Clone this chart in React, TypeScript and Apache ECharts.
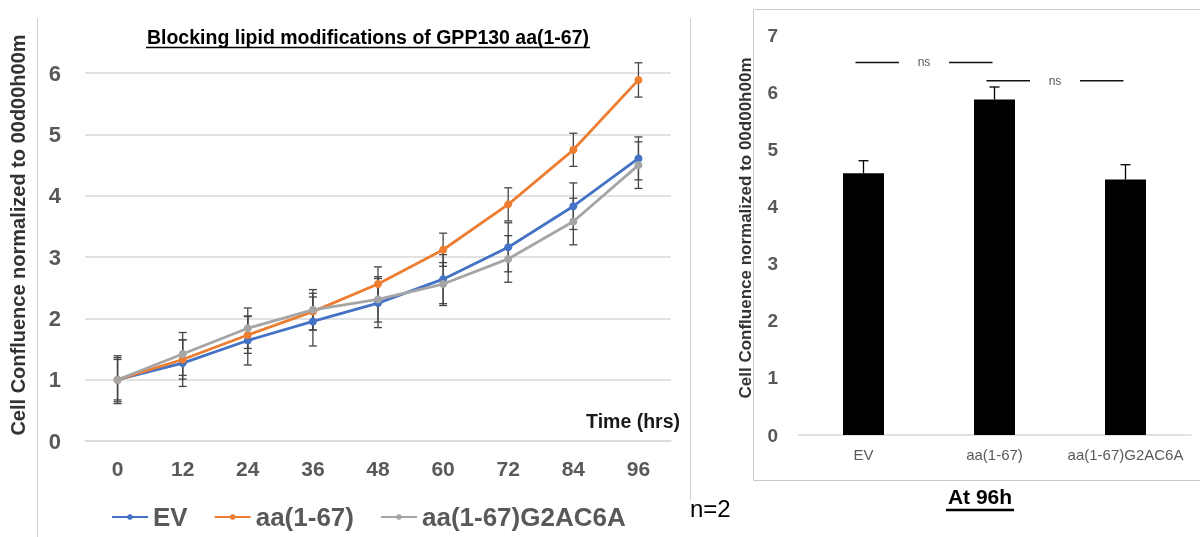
import React, { useEffect, useRef } from "react";
import * as echarts from "echarts";

const times = ["0", "12", "24", "36", "48", "60", "72", "84", "96"];
const seriesNames = ["EV", "aa(1-67)", "aa(1-67)G2AC6A"];
const evValues = [1.0, 1.27, 1.64, 1.95, 2.25, 2.64, 3.16, 3.83, 4.61];
const evErr = [0.36, 0.38, 0.4, 0.4, 0.4, 0.4, 0.4, 0.38, 0.35];
const aaValues = [1.0, 1.33, 1.73, 2.11, 2.56, 3.12, 3.86, 4.75, 5.89];
const aaErr = [0.33, 0.32, 0.3, 0.3, 0.28, 0.27, 0.27, 0.27, 0.28];
const g2Values = [1.0, 1.42, 1.84, 2.14, 2.31, 2.56, 2.97, 3.58, 4.5];
const g2Err = [0.39, 0.35, 0.33, 0.33, 0.37, 0.35, 0.38, 0.38, 0.38];
const lineColors = ["#4472C4", "#ED7D31", "#A5A5A5"];

const barCategories = ["EV", "aa(1-67)", "aa(1-67)G2AC6A"];
const at96Values = [4.58, 5.87, 4.47];
const at96Err = [0.22, 0.22, 0.26];
const sigPairs = [
  [0, 1, 6.52],
  [1, 2, 6.2],
];

const yTitle = "Cell Confluence normalized to 00d00h00m";
const FONT = "'Liberation Sans', Arial, Helvetica, sans-serif";

function errData(vals: number[], errs: number[]) {
  return vals.map((v, i) => [i, v - errs[i], v + errs[i]]);
}

function errorRender(color: string, both: boolean, cap: number) {
  return (params: any, api: any) => {
    const x = api.value(0);
    const lo = api.value(1);
    const hi = api.value(2);
    const pHi = api.coord([x, hi]);
    const pLo = api.coord([x, lo]);
    const style = { stroke: color, lineWidth: 1.3 };
    const children: any[] = [
      { type: "line", shape: { x1: pHi[0], y1: pHi[1], x2: pLo[0], y2: pLo[1] }, style },
      { type: "line", shape: { x1: pHi[0] - cap, y1: pHi[1], x2: pHi[0] + cap, y2: pHi[1] }, style },
    ];
    if (both) {
      children.push({ type: "line", shape: { x1: pLo[0] - cap, y1: pLo[1], x2: pLo[0] + cap, y2: pLo[1] }, style });
    }
    return { type: "group", children };
  };
}

export default function App() {
  const ref = useRef<HTMLDivElement>(null);
  useEffect(() => {
    if (!ref.current) return;
    const chart = echarts.init(ref.current, null, { renderer: "svg" });
    const lineVals = [evValues, aaValues, g2Values];
    const lineErrs = [evErr, aaErr, g2Err];

    const lineSeries: any[] = lineVals.map((vals, i) => ({
      name: seriesNames[i],
      type: "line",
      xAxisIndex: 0,
      yAxisIndex: 0,
      data: vals,
      symbol: "circle",
      symbolSize: 8,
      lineStyle: { width: 2.8, color: lineColors[i] },
      itemStyle: { color: lineColors[i] },
      z: 3 + i,
    }));
    const errSeries: any[] = lineVals.map((vals, i) => ({
      type: "custom",
      xAxisIndex: 0,
      yAxisIndex: 0,
      data: errData(vals, lineErrs[i]),
      renderItem: errorRender("#454545", true, 4),
      z: 2,
      silent: true,
    }));

    chart.setOption({
      animation: false,
      textStyle: { fontFamily: FONT },
      grid: [
        { left: 85, right: 529, top: 18, bottom: 96 },
        { left: 798, right: 9, top: 35, bottom: 102 },
      ],
      xAxis: [
        {
          type: "category",
          gridIndex: 0,
          data: times,
          boundaryGap: true,
          axisLine: { lineStyle: { color: "#d9d9d9", width: 1.5 } },
          axisTick: { show: false },
          axisLabel: { color: "#595959", fontSize: 21, fontWeight: "bold", margin: 17, fontFamily: FONT },
        },
        {
          type: "category",
          gridIndex: 1,
          data: barCategories,
          axisLine: { lineStyle: { color: "#d9d9d9", width: 1.5 } },
          axisTick: { show: false },
          axisLabel: { color: "#595959", fontSize: 15, margin: 12, interval: 0, hideOverlap: false, fontFamily: FONT },
        },
      ],
      yAxis: [
        {
          type: "value",
          gridIndex: 0,
          min: 0,
          max: 6.9,
          interval: 1,
          axisLine: { show: false },
          axisTick: { show: false },
          axisLabel: { color: "#595959", fontSize: 22, fontWeight: "bold", margin: 24, showMaxLabel: false, fontFamily: FONT },
          splitLine: { show: true, showMaxLine: false, lineStyle: { color: "#d9d9d9", width: 1.5 } },
        },
        {
          type: "value",
          gridIndex: 1,
          min: 0,
          max: 7,
          interval: 1,
          axisLine: { show: false },
          axisTick: { show: false },
          axisLabel: { color: "#595959", fontSize: 19, fontWeight: "bold", margin: 20, fontFamily: FONT },
          splitLine: { show: false },
        },
      ],
      legend: {
        data: seriesNames,
        left: 106,
        top: 499,
        itemWidth: 36,
        itemHeight: 7,
        itemGap: 26,
        textStyle: { color: "#595959", fontSize: 26, fontWeight: "bold", fontFamily: FONT },
      },
      series: [
        ...errSeries,
        ...lineSeries,
        {
          type: "bar",
          xAxisIndex: 1,
          yAxisIndex: 1,
          data: at96Values,
          barWidth: 41,
          itemStyle: { color: "#000000" },
        },
        {
          type: "custom",
          xAxisIndex: 1,
          yAxisIndex: 1,
          data: at96Values.map((v, i) => [i, v, v + at96Err[i]]),
          renderItem: errorRender("#000000", false, 5),
          z: 1,
          silent: true,
        },
        {
          type: "custom",
          xAxisIndex: 1,
          yAxisIndex: 1,
          data: sigPairs,
          silent: true,
          renderItem: (params: any, api: any) => {
            const a = api.value(0);
            const b = api.value(1);
            const y = api.value(2);
            const pa = api.coord([a, y]);
            const pb = api.coord([b, y]);
            const x1 = pa[0] - 8;
            const x2 = pb[0] - 2;
            const gap = 50;
            const mid = (x1 + x2) / 2;
            const st = { stroke: "#111", lineWidth: 1.5 };
            return {
              type: "group",
              children: [
                { type: "line", shape: { x1, y1: pa[1], x2: mid - gap / 2, y2: pa[1] }, style: st },
                { type: "line", shape: { x1: mid + gap / 2, y1: pa[1], x2, y2: pa[1] }, style: st },
                {
                  type: "text",
                  x: mid,
                  y: pa[1],
                  style: { text: "ns", align: "center", verticalAlign: "middle", fill: "#595959", font: `12px ${FONT}` },
                },
              ],
            };
          },
        },
      ],
      graphic: [
        { type: "line", shape: { x1: 37.5, y1: 18, x2: 37.5, y2: 537 }, style: { stroke: "#d0d0d0", lineWidth: 1 } },
        { type: "line", shape: { x1: 690.5, y1: 18, x2: 690.5, y2: 500 }, style: { stroke: "#d0d0d0", lineWidth: 1 } },
        { type: "rect", shape: { x: 753.5, y: 9.5, width: 460, height: 471 }, style: { fill: "none", stroke: "#c8c8c8", lineWidth: 1 } },
        {
          type: "text",
          x: 368,
          y: 37,
          style: { text: "Blocking lipid modifications of GPP130 aa(1-67)", align: "center", verticalAlign: "middle", fill: "#000", font: `bold 19.5px ${FONT}` },
        },
        { type: "line", shape: { x1: 146, y1: 47.5, x2: 590, y2: 47.5 }, style: { stroke: "#000", lineWidth: 1.5 } },
        {
          type: "text",
          x: 18,
          y: 235,
          rotation: Math.PI / 2,
          style: { text: yTitle, align: "center", verticalAlign: "middle", fill: "#333", font: `bold 20px ${FONT}` },
        },
        {
          type: "text",
          x: 745,
          y: 228,
          rotation: Math.PI / 2,
          style: { text: yTitle, align: "center", verticalAlign: "middle", fill: "#333", font: `bold 17px ${FONT}` },
        },
        {
          type: "text",
          x: 680,
          y: 421,
          style: { text: "Time (hrs)", align: "right", verticalAlign: "middle", fill: "#1a1a1a", font: `bold 19.5px ${FONT}` },
        },
        {
          type: "text",
          x: 690,
          y: 508,
          style: { text: "n=2", align: "left", verticalAlign: "middle", fill: "#000", font: `24px ${FONT}` },
        },
        {
          type: "text",
          x: 980,
          y: 496,
          style: { text: "At 96h", align: "center", verticalAlign: "middle", fill: "#000", font: `bold 21px ${FONT}` },
        },
        { type: "line", shape: { x1: 946, y1: 510, x2: 1014, y2: 510 }, style: { stroke: "#000", lineWidth: 2.5 } },
      ],
    });
    return () => chart.dispose();
  }, []);
  return <div ref={ref} style={{ position: "fixed", left: 0, top: 0, width: 1200, height: 537 }} />;
}
